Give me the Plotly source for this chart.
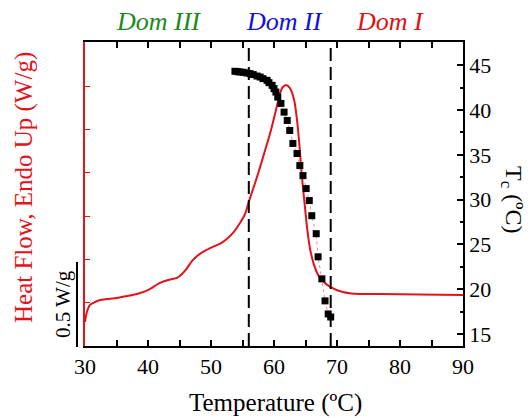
import plotly.graph_objects as go

# DSC heat-flow trace (relative W/g, endo up)
dsc_temp = [30.0, 30.3, 30.8, 31.6, 32.4, 33.5, 35.1, 36.7, 38.25, 40.0, 41.9, 43.2,
            44.6, 45.4, 46.2, 47.0, 47.8, 49.0, 50.3, 51.4, 52.5, 53.6, 54.6, 55.4,
            56.2, 57.0, 57.8, 58.6, 59.4, 60.2, 60.8, 61.3, 61.9, 62.5, 63.2, 63.65,
            64.1, 64.4, 64.8, 65.2, 65.7, 66.35, 67.0, 67.6, 68.9, 70.9, 73.6, 76.8,
            83.0, 90.0]
dsc_flow = [0.139, 0.196, 0.237, 0.254, 0.266, 0.271, 0.277, 0.289, 0.300, 0.323, 0.364, 0.381,
            0.393, 0.416, 0.450, 0.491, 0.520, 0.549, 0.572, 0.589, 0.618, 0.658, 0.710, 0.762,
            0.855, 0.941, 1.034, 1.132, 1.230, 1.345, 1.438, 1.490, 1.507, 1.490, 1.420, 1.305,
            1.132, 0.987, 0.843, 0.699, 0.566, 0.468, 0.410, 0.381, 0.341, 0.312, 0.300, 0.300,
            0.297, 0.294]

# Cloud-point temperature Tc versus temperature
tc_temp = [53.8, 54.2, 54.6, 55.1, 55.7, 56.2, 56.7, 57.3, 57.8, 58.25, 58.9, 59.2,
           59.7, 60.0, 60.3, 60.6, 61.1, 61.6, 62.1, 62.5, 63.0, 63.65, 64.1, 64.6,
           65.1, 65.6, 66.0, 66.7, 67.0, 67.6, 68.1, 68.6, 69.0]
tc_vals = [44.33, 44.29, 44.25, 44.22, 44.14, 44.07, 43.96, 43.80, 43.69, 43.51, 43.32, 43.06,
           42.76, 42.39, 42.01, 41.45, 40.74, 39.77, 38.84, 37.72, 36.27, 35.15, 33.80, 32.68,
           31.23, 29.89, 28.20, 26.19, 23.61, 21.15, 18.69, 17.23, 16.89]

domain_bounds = [56.0, 69.0]
domain_labels = ["Dom III", "Dom II", "Dom I"]
domain_colors = ["#1a8a1a", "#1010e0", "#e01010"]
domain_x = [158, 284, 390]  # pixel centres of the domain captions

RED = "#e3121b"
FONT = "Liberation Serif"

W, H = 530, 418
L, R, T, B = 85, 67, 42, 72
PW, PH = W - L - R, H - T - B


def px_x(p):
    return (p - L) / PW


def px_y(p):
    return (H - B - p) / PH


fig = go.Figure()

fig.add_trace(go.Scatter(
    x=dsc_temp, y=dsc_flow, mode="lines", yaxis="y",
    line=dict(color=RED, width=2, shape="spline", smoothing=0.6),
    showlegend=False, hoverinfo="skip"))

fig.add_trace(go.Scatter(
    x=tc_temp, y=tc_vals, mode="lines+markers", yaxis="y2",
    line=dict(color="rgba(230,90,90,0.7)", width=1, dash="dot"),
    marker=dict(symbol="square", size=7, color="black"),
    showlegend=False, hoverinfo="skip"))

for xb in domain_bounds:
    fig.add_shape(type="line", xref="x", yref="paper", x0=xb, x1=xb, y0=0, y1=1,
                  line=dict(color="black", width=2, dash="13px,6px"))

# 0.5 W/g scale bar
fig.add_shape(type="line", xref="paper", yref="paper",
              x0=px_x(77), x1=px_x(77), y0=px_y(347), y1=px_y(262),
              line=dict(color="black", width=2))

annotations = [
    dict(text="0.5 W/g", x=px_x(63), y=px_y(304), textangle=-90,
         font=dict(family=FONT, size=21, color="black")),
    dict(text="Heat Flow, Endo Up (W/g)", x=px_x(24), y=px_y(188), textangle=-90,
         font=dict(family=FONT, size=25, color=RED)),
    dict(text="T<sub>c</sub> (ºC)", x=px_x(512), y=px_y(200), textangle=90,
         font=dict(family=FONT, size=24, color="black")),
    dict(text="Temperature (ºC)", x=px_x(275), y=px_y(403),
         font=dict(family=FONT, size=25, color="black")),
]
for lab, col, xc in zip(domain_labels, domain_colors, domain_x):
    annotations.append(dict(text=f"<i>{lab}</i>", x=px_x(xc), y=px_y(22),
                            font=dict(family=FONT, size=26, color=col)))
for a in annotations:
    a.update(xref="paper", yref="paper", showarrow=False,
             xanchor="center", yanchor="middle")

fig.update_layout(
    width=W, height=H,
    margin=dict(l=L, r=R, t=T, b=B, pad=0),
    paper_bgcolor="white", plot_bgcolor="white",
    font=dict(family=FONT, size=22, color="black"),
    annotations=annotations,
    xaxis=dict(range=[30, 90], dtick=10, tick0=30, ticks="inside", ticklen=6,
               tickwidth=1.5, tickcolor="black",
               minor=dict(dtick=5, ticks="inside", ticklen=3, tickcolor="black"),
               showline=True, linecolor="black", linewidth=1.5, mirror="allticks",
               showgrid=False, zeroline=False,
               tickfont=dict(family=FONT, size=22)),
    yaxis=dict(range=[0, 1.755], dtick=0.25, tick0=0, ticks="inside", ticklen=5,
               tickcolor=RED, showticklabels=False, showline=True, linecolor=RED,
               linewidth=1.5, showgrid=False, zeroline=False),
    yaxis2=dict(range=[13.65, 47.6], dtick=5, tick0=15, overlaying="y", side="right",
                ticks="inside", ticklen=6, tickwidth=1.5, tickcolor="black",
                minor=dict(dtick=2.5, ticks="inside", ticklen=3, tickcolor="black"),
                showline=True, linecolor="black", linewidth=1.5,
                showgrid=False, zeroline=False,
                tickfont=dict(family=FONT, size=22)),
)

fig.write_html("out.html")
